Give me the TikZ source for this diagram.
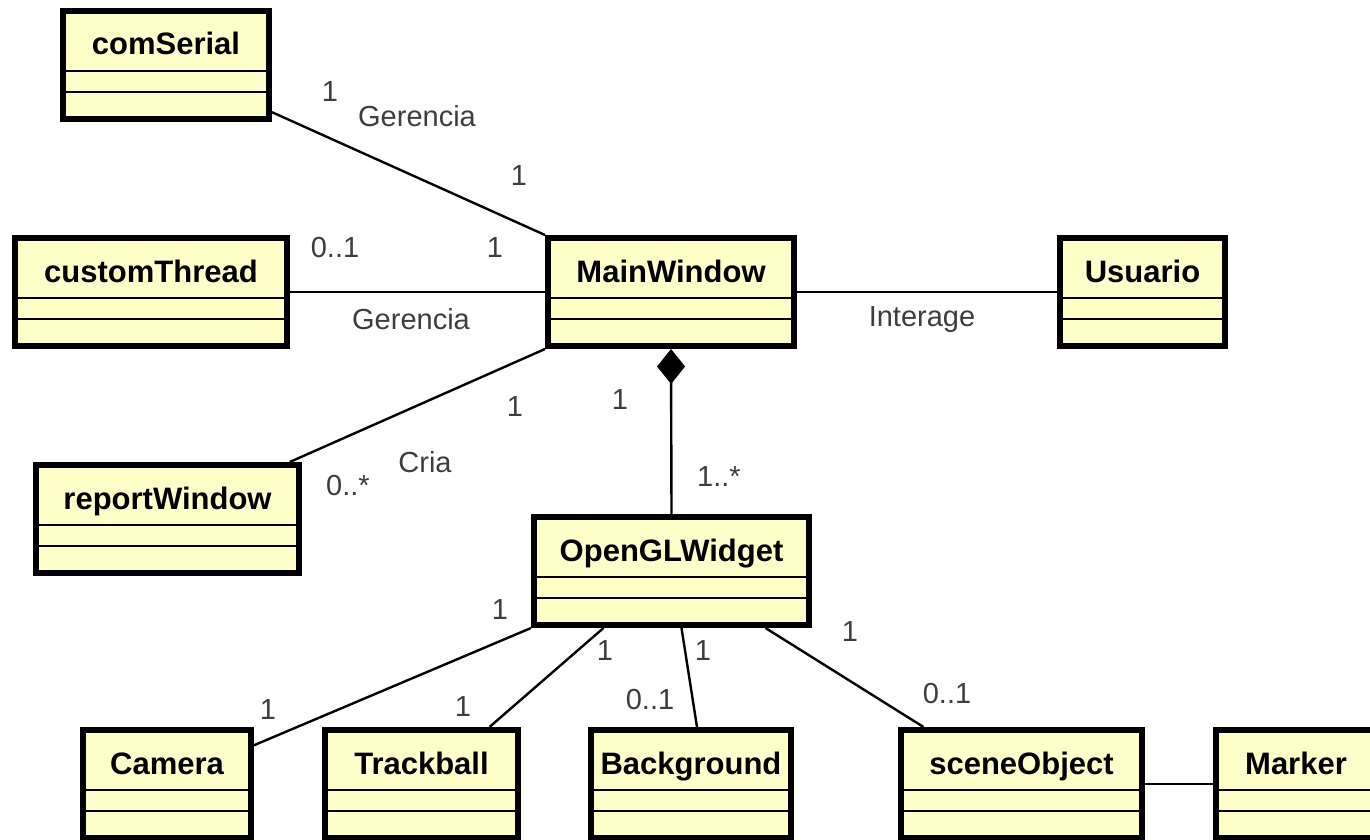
\documentclass[tikz,border=0pt]{standalone}
\usepackage{fontspec}
\setmainfont{Liberation Sans}
\usepackage{tikz}
\usetikzlibrary{arrows.meta}
\definecolor{UMLClassFill}{RGB}{255,255,202}
\definecolor{UMLLabelColor}{RGB}{62,62,62}

\begin{document}
\begin{tikzpicture}[x=0.5pt,y=-0.5pt,
cls/.style={draw,line width=3pt,fill=UMLClassFill,rectangle,anchor=north west,inner sep=0pt,minimum width={(#1-6)*0.5pt},minimum height=54pt},
clsname/.style={anchor=base,font=\fontsize{15.5}{18}\selectfont\bfseries},
clssep/.style={line width=1pt},
assoc/.style={line width=1.2pt},
lbl/.style={text=UMLLabelColor,font=\fontsize{14.5}{17}\selectfont,inner sep=0pt}]
\useasboundingbox (0,0) rectangle (1370,840);
\foreach \n/\x/\y/\w in %
{comSerial/60/8/212,customThread/12/235/278,MainWindow/545/235/252,Usuario/1057/235/171,
 reportWindow/33/462/269,OpenGLWidget/531/514/281,Camera/80/727/174,Trackball/322/727/199,
 Background/588/727/206,sceneObject/898/727/247,Marker/1213/727/166} {
   \node[cls=\w](\n) at (\x,\y) {};
   \node[clsname](\n-name) at ([yshift=-23.5pt]\n.north) {\n};
   \draw[clssep] ([yshift=-31.5pt]\n.north west) -- ([yshift=-31.5pt]\n.north east);
   \draw[clssep] ([yshift=-42pt]\n.north west) -- ([yshift=-42pt]\n.north east);
}
% associations
\draw[assoc] (comSerial.-24) -- (MainWindow.north west);
\draw[assoc] (customThread.east) -- (MainWindow.west);
\draw[assoc] (MainWindow.east) -- (Usuario.west);
\draw[assoc] (MainWindow.south west) -- (reportWindow.25);
\draw[assoc,-{Diamond[length=17.5pt,width=14pt]}] (OpenGLWidget.north) -- (MainWindow.south);
\draw[assoc] (OpenGLWidget.south west) -- (Camera.24);
\draw[assoc] ([xshift=-34pt]OpenGLWidget.south) -- ([xshift=34pt]Trackball.north);
\draw[assoc] ([xshift=5pt]OpenGLWidget.south) -- ([xshift=3pt]Background.north);
\draw[assoc] ([xshift=47pt]OpenGLWidget.south) -- ([xshift=-49pt]sceneObject.north);
\draw[assoc] (sceneObject.east) -- (Marker.west);
% multiplicities and names
\foreach \x/\y/\t [count=\i] in %
{330/92/1,417/116/Gerencia,519/176/1,335/248/0..1,495/248/1,411/319/Gerencia,
 922/320/Interage,515/407/1,425/462/Cria,348/486/0..*,620/400/1,719/477/1..*,
 500/610/1,268/710/1,605/651/1,463/707/1,703/651/1,650/700/0..1,850/632/1,947/694/0..1} {
   \node[lbl](l\i) at (\x,\y) {\t};
}
\end{tikzpicture}
\end{document}
